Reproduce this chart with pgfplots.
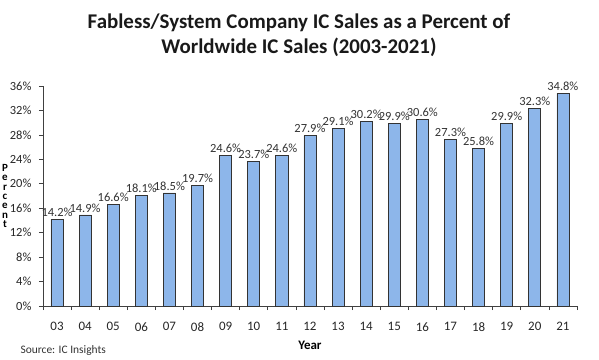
\documentclass[border=0pt]{standalone}
\usepackage{pgfplots}
\pgfplotsset{compat=1.18}
\usepackage{fontspec}
\setmainfont{Carlito}
\definecolor{barfill}{HTML}{8DB6EA}
\definecolor{bartext}{HTML}{333333}
\begin{document}
\begin{tikzpicture}[x=1bp,y=1bp]
\path[use as bounding box] (0,0) rectangle (599,359);
\node[font=\fontsize{21}{25}\selectfont\bfseries, align=center, text=black!90] at (299,324) {Fabless/System Company IC Sales as a Percent of\\Worldwide IC Sales (2003-2021)};
\begin{axis}[
  at={(57bp,53bp)}, anchor=origin,
  scale only axis, width=534bp, height=220bp,
  xmin=-0.5, xmax=18.5, ymin=0, ymax=36,
  axis lines*=left,
  axis line style={black!75, line width=0.8pt},
  ytick={0,4,...,36},
  yticklabel={\pgfmathprintnumber{\tick}\%},
  /pgf/number format/assume math mode=true,
  xtick={0,...,18},
  xticklabels={03,04,05,06,07,08,09,10,11,12,13,14,15,16,17,18,19,20,21},
  minor xtick={-0.5,0.5,...,18.5},
  major x tick style={draw=none},
  minor tick length=4bp,
  major tick length=4bp,
  tick style={black!75, line width=0.6pt},
  xtick align=center,
  ytick align=outside,
  tick label style={font=\fontsize{12.5}{15}\selectfont, text=black!85},
  xticklabel style={yshift=-9bp, font=\fontsize{13}{15}\selectfont},
  yticklabel style={xshift=-4bp},
  xlabel={\textbf{Year}},
  label style={font=\fontsize{13}{15}\selectfont},
  xlabel style={at={(axis description cs:0.5,0)}, anchor=center, yshift=-39bp},
  ybar, bar width=0.43,
  nodes near coords={\pgfmathprintnumber[fixed,precision=1,fixed zerofill]{\pgfplotspointmeta}\%},
  nodes near coords style={font=\fontsize{12.5}{14}\selectfont, text=bartext, yshift=-1bp},
  clip=false,
]
\addplot[fill=barfill, draw=black!80, line width=0.7pt] coordinates {
(0,14.2)(1,14.9)(2,16.6)(3,18.1)(4,18.5)(5,19.7)(6,24.6)(7,23.7)(8,24.6)(9,27.9)
(10,29.1)(11,30.2)(12,29.9)(13,30.6)(14,27.3)(15,25.8)(16,29.9)(17,32.3)(18,34.8)};
\end{axis}
\node[font=\fontsize{11}{9.5}\selectfont\bfseries, align=center, inner sep=0pt] at (5,163) {P\\e\\r\\c\\e\\n\\t};
\node[anchor=west, font=\fontsize{11.5}{13}\selectfont, text=black!80] at (17,8) {Source: IC Insights};
\end{tikzpicture}
\end{document}
